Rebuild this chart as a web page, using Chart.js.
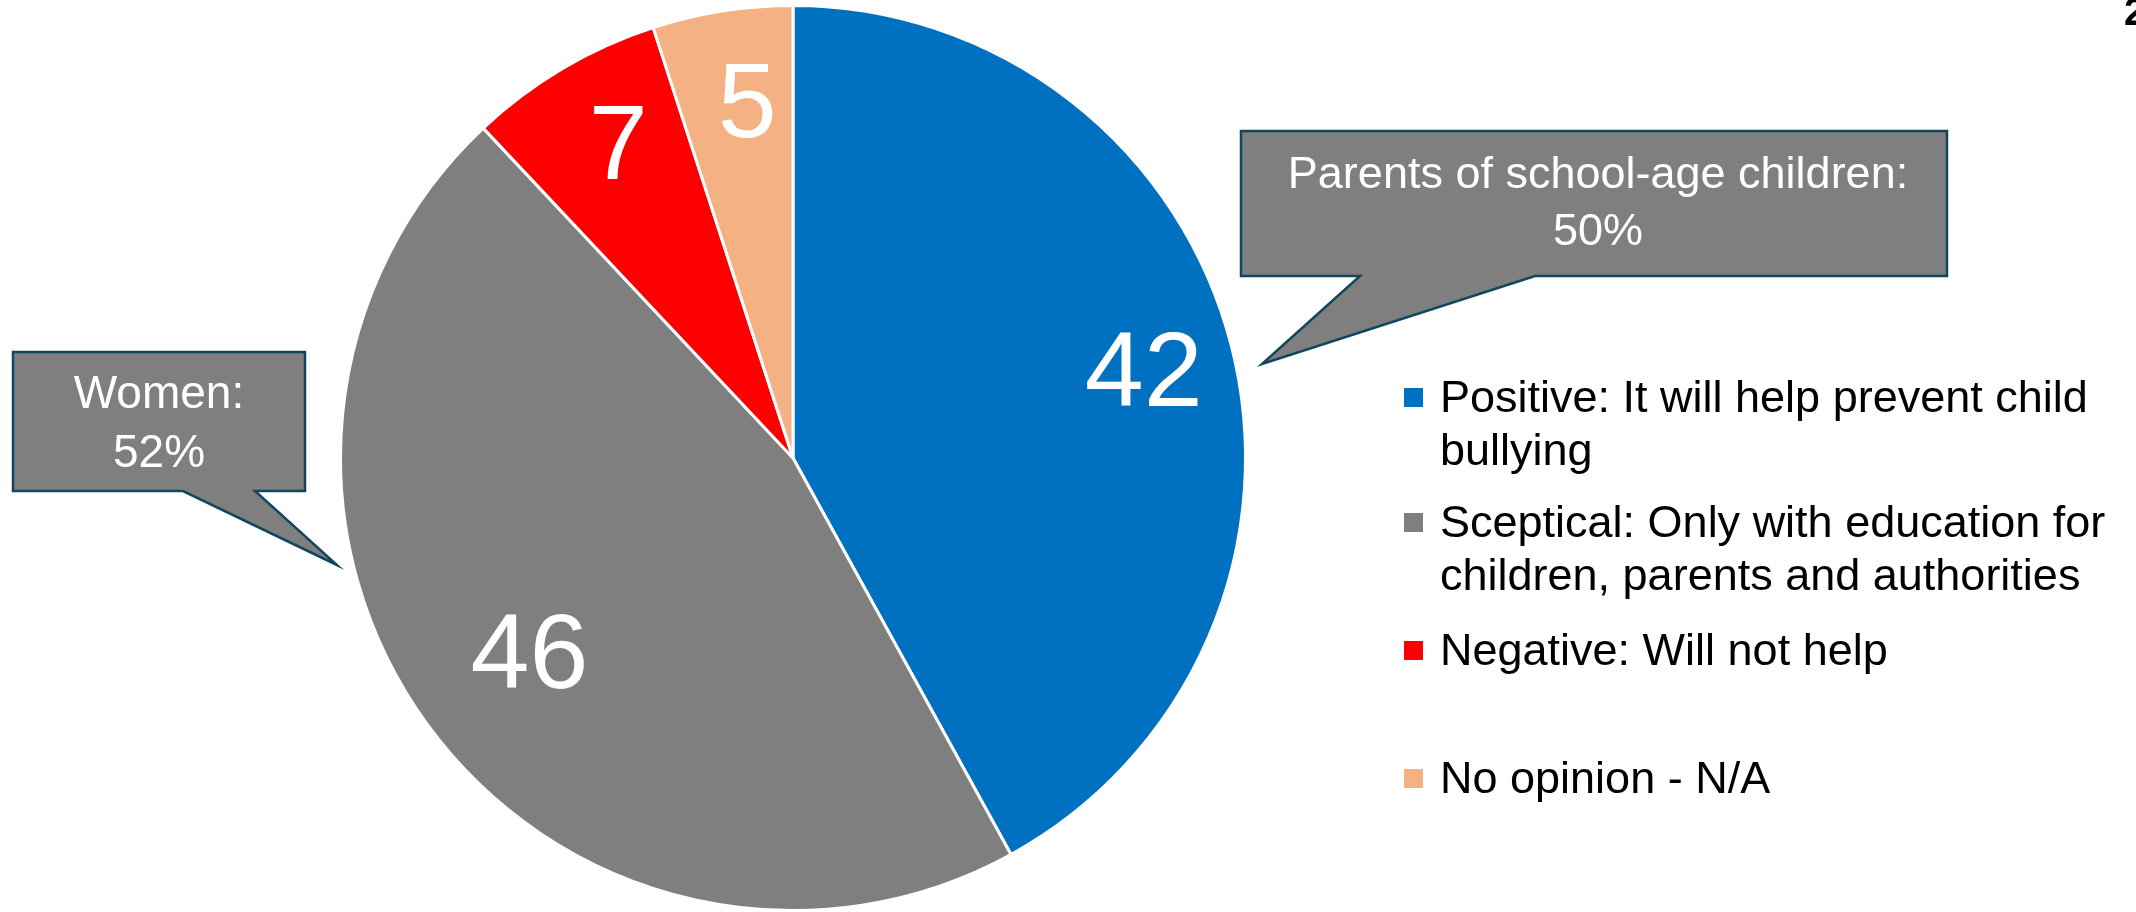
<!DOCTYPE html>
<html>
<head>
<meta charset="utf-8">
<script src="https://cdn.jsdelivr.net/npm/chart.js@4.4.1/dist/chart.umd.min.js"></script>
<style>
  html, body { margin: 0; padding: 0; background: #fff; }
  #wrap { position: relative; width: 2136px; height: 912px; }
</style>
</head>
<body>
<div id="wrap"><canvas id="pie"></canvas></div>
<script>
// data
const categories = [
  ['Positive: It will help prevent child', 'bullying'],
  ['Sceptical: Only with education for', 'children, parents and authorities'],
  ['Negative: Will not help'],
  ['No opinion - N/A']
];
const shares = [42, 46, 7, 5];
const sliceColors = ['#0070C0', '#7F7F7F', '#FF0000', '#F4B183'];
const calloutWomen = ['Women:', '52%'];
const calloutParents = ['Parents of school-age children:', '50%'];
const pageNo = '2';

const FONT = "'Liberation Sans', Arial, sans-serif";

// big white numbers inside the slices
const sliceLabels = {
  id: 'sliceLabels',
  afterDatasetsDraw(chart) {
    const ctx = chart.ctx;
    const meta = chart.getDatasetMeta(0);
    ctx.save();
    ctx.fillStyle = '#fff';
    ctx.font = '106px ' + FONT;
    ctx.textAlign = 'center';
    ctx.textBaseline = 'alphabetic';
    meta.data.forEach((arc, i) => {
      const p = arc.getProps(['x', 'y', 'startAngle', 'endAngle', 'outerRadius'], true);
      let mid = (p.startAngle + p.endAngle) / 2;
      if (i >= 2) mid += 0.03; // small slices sit a bit right of centre on the slide
      const f = i === 1 ? 0.72 : 0.8;
      const px = p.x + Math.cos(mid) * p.outerRadius * f;
      const py = p.y + Math.sin(mid) * p.outerRadius * f;
      ctx.fillText(String(chart.data.datasets[0].data[i]), px, py + 38);
    });
    ctx.restore();
  }
};

// legend on the right, drawn by hand to keep the slide spacing
const sideLegend = {
  id: 'sideLegend',
  afterDraw(chart) {
    const ctx = chart.ctx;
    const rows = [412, 537, 665, 793];
    ctx.save();
    ctx.font = '45px ' + FONT;
    ctx.textBaseline = 'alphabetic';
    ctx.textAlign = 'left';
    chart.data.labels.forEach((lines, i) => {
      const y = rows[i];
      ctx.fillStyle = chart.data.datasets[0].backgroundColor[i];
      ctx.fillRect(1404, y - 24, 19, 19);
      ctx.fillStyle = '#000';
      lines.forEach((t, k) => ctx.fillText(t, 1440, y + k * 53));
    });
    ctx.restore();
  }
};

function bubble(ctx, pts, lines, cx, baselines, size) {
  ctx.beginPath();
  ctx.moveTo(pts[0][0], pts[0][1]);
  for (let i = 1; i < pts.length; i++) ctx.lineTo(pts[i][0], pts[i][1]);
  ctx.closePath();
  ctx.fillStyle = '#7F7F7F';
  ctx.fill();
  ctx.lineWidth = 2.5;
  ctx.strokeStyle = '#124660';
  ctx.stroke();
  ctx.fillStyle = '#fff';
  ctx.font = size + 'px ' + FONT;
  ctx.textAlign = 'center';
  ctx.textBaseline = 'alphabetic';
  lines.forEach((t, k) => ctx.fillText(t, cx, baselines[k]));
}

const callouts = {
  id: 'callouts',
  afterDraw(chart) {
    const ctx = chart.ctx;
    ctx.save();
    bubble(ctx, [[13, 352], [305, 352], [305, 491], [255, 491], [337, 565], [183, 491], [13, 491]],
      calloutWomen, 159, [408, 467], 46);
    bubble(ctx, [[1241, 131], [1947, 131], [1947, 276], [1535, 276], [1262, 364], [1360, 276], [1241, 276]],
      calloutParents, 1598, [188, 245], 45);
    ctx.fillStyle = '#000';
    ctx.font = 'bold 38px ' + FONT;
    ctx.textAlign = 'left';
    ctx.fillText(pageNo, 2124, 25);
    ctx.restore();
  }
};

new Chart(document.getElementById('pie'), {
  type: 'pie',
  data: {
    labels: categories,
    datasets: [{
      data: shares,
      backgroundColor: sliceColors,
      borderColor: '#fff',
      borderWidth: 3
    }]
  },
  options: {
    responsive: true,
    maintainAspectRatio: false,
    animation: false,
    layout: { padding: { left: 337, right: 887, top: 4, bottom: -4 } },
    plugins: {
      legend: { display: false },
      tooltip: { enabled: false }
    }
  },
  plugins: [sliceLabels, sideLegend, callouts]
});
</script>
</body>
</html>
